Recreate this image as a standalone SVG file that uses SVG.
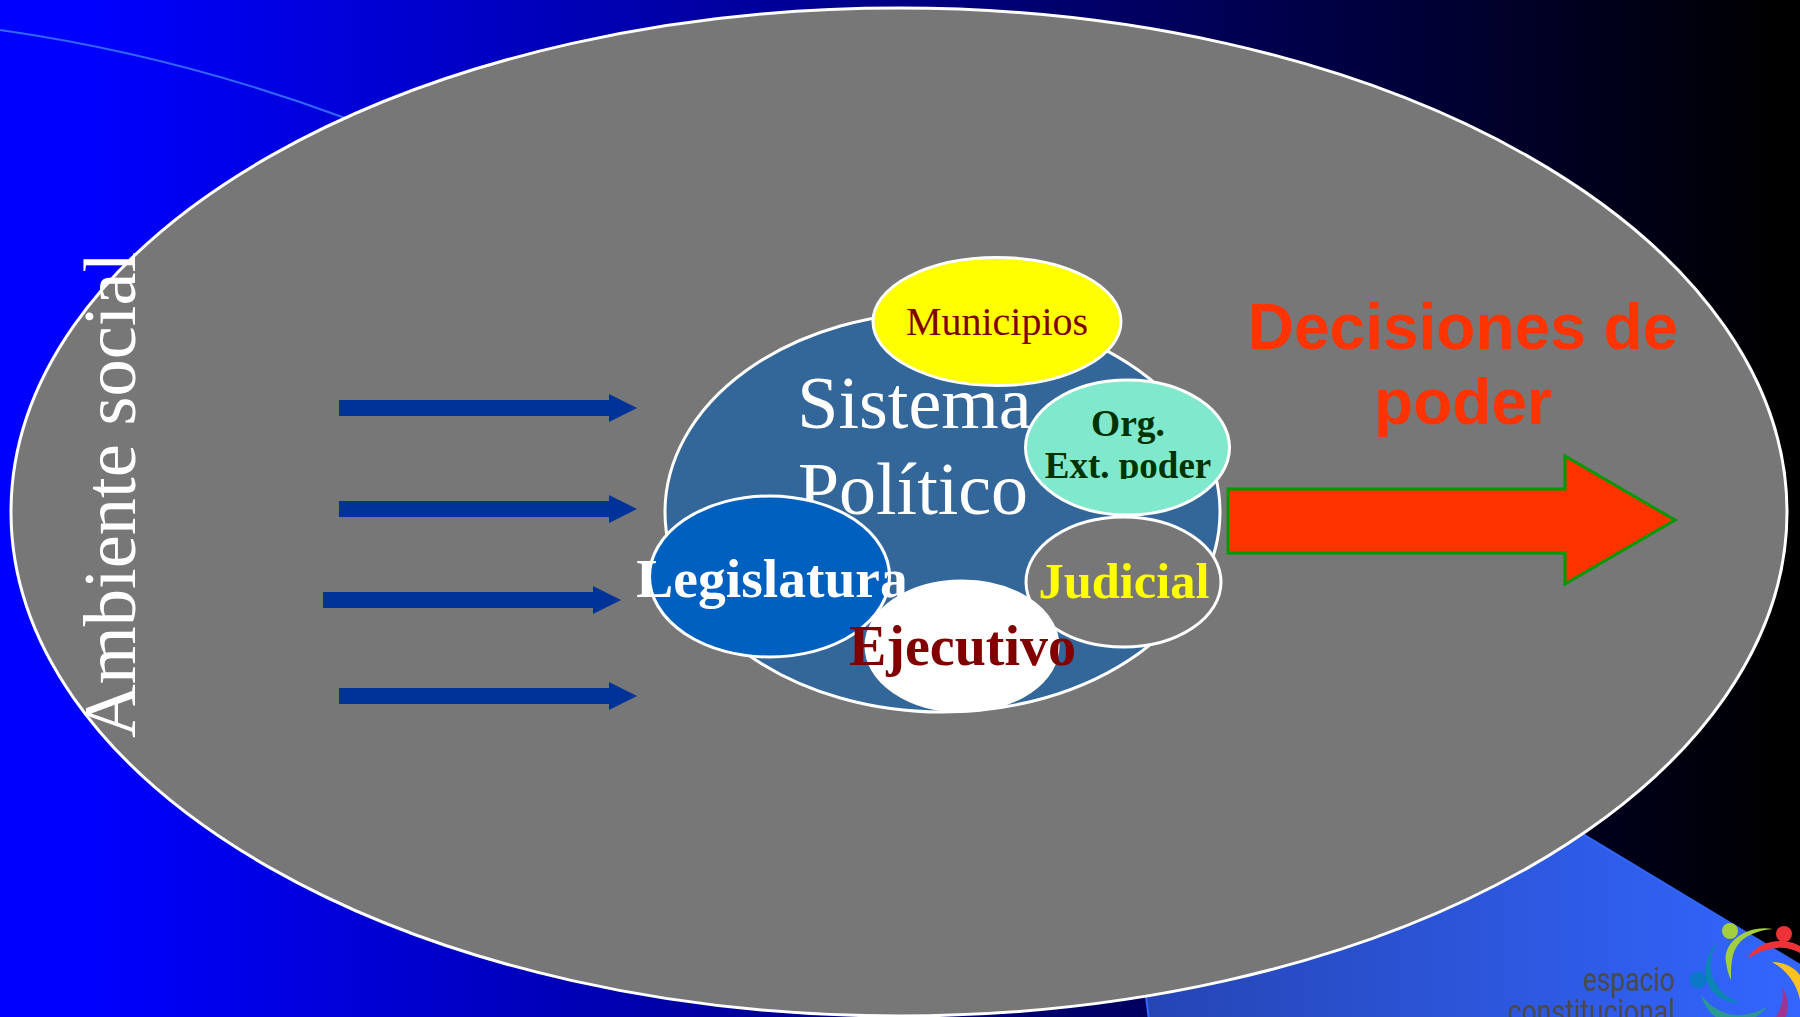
<svg xmlns="http://www.w3.org/2000/svg" width="1800" height="1017" viewBox="0 0 1800 1017">
<style>
.s{font-family:"Liberation Serif","Times New Roman",serif}
.b{font-weight:bold}
.m{text-anchor:middle}
.n{stroke:#fff;stroke-width:3}
.in{fill:#003399}
.lg{font-family:Roboto,"Liberation Sans",sans-serif;font-size:34px;fill:#4a4a4a}
.dp{font-family:"Liberation Sans",Arial,sans-serif;font-weight:bold;font-size:64px;fill:#ff3300;text-anchor:middle}
</style>
<defs>
<linearGradient id="bg" x1="0" y1="0" x2="1" y2="0"><stop offset="0.05" stop-color="#0000ff"/><stop offset="0.99" stop-color="#000000"/></linearGradient>
<linearGradient id="tri" gradientUnits="userSpaceOnUse" x1="1147" y1="0" x2="1800" y2="0"><stop offset="0" stop-color="#2545b5"/><stop offset="1" stop-color="#3366ff"/></linearGradient>
<clipPath id="extClip"><rect x="1020" y="450" width="220" height="29"/></clipPath>
</defs>
<rect width="1800" height="1017" fill="url(#bg)"/>
<path d="M0 30Q175 55 345 118" fill="none" stroke="#3366ff" stroke-width="2"/>
<polygon points="1400,724 1800,965 1800,1020 1149,1020 1140,950" fill="url(#tri)" stroke="#3366ff" stroke-width="2"/>
<g id="logo">
<text class="lg" x="1583" y="991" textLength="92" lengthAdjust="spacingAndGlyphs">espacio</text>
<text class="lg" x="1508" y="1023" textLength="167" lengthAdjust="spacingAndGlyphs">constitucional</text>
<circle cx="1730" cy="931" r="8" fill="#a4cf3c"/>
<circle cx="1784" cy="934" r="8" fill="#ee3338"/>
<circle cx="1698" cy="980" r="8.500" fill="#0b78c8"/>
<path d="M1773 929C1748 924 1722 942 1726 962C1727 970 1729 976 1731 980C1731 965 1731 952 1740 942C1748 934 1760 930 1773 929Z" fill="#a4cf3c"/>
<path d="M1718 942C1704 955 1702 975 1710 988C1716 998 1728 1003 1740 1003C1728 999 1718 990 1713 978C1708 965 1711 952 1718 942Z" fill="#0b86b5"/>
<path d="M1747 959C1755 946 1768 941 1780 941C1788 941 1795 943 1800 946V953C1793 949 1785 947 1777 948C1766 949 1756 953 1747 959Z" fill="#ee3338"/>
<path d="M1772 962C1785 962 1795 968 1800 975V1000C1797 985 1788 971 1772 962Z" fill="#fdc222"/>
<path d="M1782 986C1788 995 1789 1007 1786 1017H1776C1782 1007 1784 997 1782 986Z" fill="#a0358f"/>
<path d="M1701 994C1704 1006 1712 1017 1722 1020H1750C1757 1017 1763 1012 1767 1007C1755 1014 1740 1017 1728 1014C1716 1010 1706 1003 1701 994Z" fill="#2a9a90"/>
</g>
<g id="ambiente-social">
<ellipse cx="899" cy="512" rx="888" ry="504" fill="#777777" stroke="#fff" stroke-width="3"/>
</g>
<text class="s" transform="translate(135 738) rotate(-90)" font-size="74.500" fill="#fff">Ambiente social</text>
<g id="connectors">
<polygon class="in" points="339,400 609,400 609,394 637,408 609,422 609,416 339,416"/>
<polygon class="in" points="339,501 609,501 609,495 637,509 609,523 609,517 339,517"/>
<polygon class="in" points="323,592 593,592 593,586 621,600 593,614 593,608 323,608"/>
<polygon class="in" points="339,688 609,688 609,682 637,696 609,710 609,704 339,704"/>
<polygon points="1228,489 1565,489 1565,456 1675,520 1565,584 1565,553 1228,553" fill="#ff3300" stroke="#009900" stroke-width="3"/>
</g>
<g id="sistema">
<ellipse class="n" cx="942.500" cy="512" rx="277.500" ry="200" fill="#336699"/>
<text class="s m" x="914.500" y="428" font-size="74" fill="#fff">Sistema</text>
<text class="s m" x="913" y="514" font-size="74" fill="#fff">Político</text>
</g>
<g id="municipios">
<ellipse class="n" cx="997" cy="321.500" rx="124" ry="64" fill="#ffff00"/>
<text class="s m" x="997" y="335" font-size="40" fill="#800000">Municipios</text>
</g>
<g id="org">
<ellipse class="n" cx="1127.500" cy="447.500" rx="102" ry="67.500" fill="#80e8cc"/>
<text class="s b m" x="1128" y="436" font-size="37.500" fill="#003300">Org.</text>
<text class="s b m" x="1128" y="478" font-size="37" fill="#003300" clip-path="url(#extClip)">Ext. poder</text>
</g>
<g id="judicial">
<ellipse class="n" cx="1123.500" cy="582" rx="97.500" ry="65" fill="#777777"/>
</g>
<g id="ejecutivo">
<ellipse class="n" cx="962" cy="646" rx="96" ry="65" fill="#ffffff"/>
</g>
<g id="legislatura">
<ellipse class="n" cx="769.500" cy="576.500" rx="120" ry="80.500" fill="#0060c0"/>
<text class="s b m" x="772" y="597" font-size="55.500" fill="#fff">Legislatura</text>
</g>
<text class="s b m" x="1124" y="598" font-size="50.500" fill="#ffff00">Judicial</text>
<text class="s b m" x="962.500" y="665" font-size="56" fill="#800000">Ejecutivo</text>
<g id="decisiones">
<text class="dp" x="1463" y="349">Decisiones de</text>
<text class="dp" x="1463" y="424">poder</text>
</g>
</svg>
